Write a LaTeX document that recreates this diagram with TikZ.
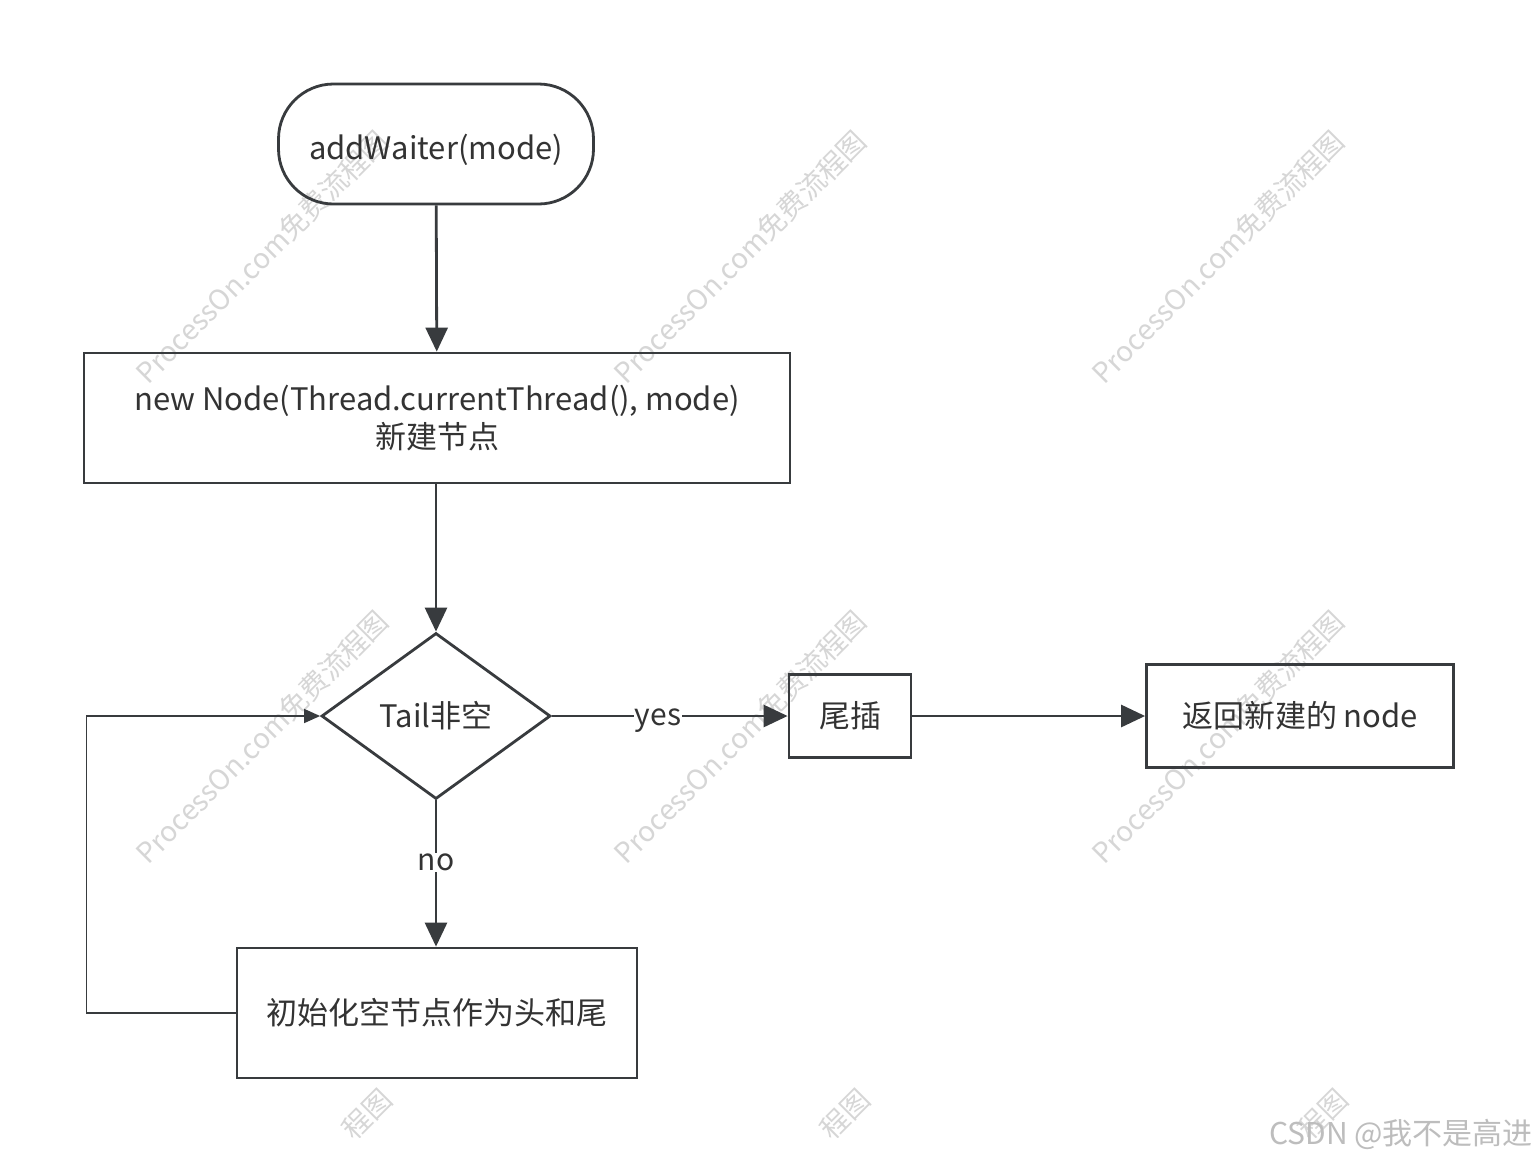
\documentclass[tikz,border=0pt]{standalone}
\usepackage{fontspec}
\setmainfont{Noto Sans CJK SC}
\usetikzlibrary{arrows.meta,shapes.geometric}
\definecolor{ln}{HTML}{383B3E}
\definecolor{tx}{HTML}{333333}
\definecolor{wm}{HTML}{D6D6D6}
\definecolor{csdn}{HTML}{BDBDBD}
\begin{document}
\begin{tikzpicture}[x=1pt,y=-1pt,
  box/.style={draw=ln,line width=2.8pt,text=tx,font=\fontsize{31}{38}\selectfont,align=center,inner sep=0pt},
  conn/.style={draw=ln,line width=2.8pt,-{Triangle[length=24pt,width=22pt]}},
  loopline/.style={draw=ln,line width=1.5pt,-{Triangle[length=16pt,width=14pt]}},
  lbl/.style={fill=white,text=tx,font=\fontsize{30}{30}\selectfont,inner sep=1pt},
  wmark/.style={rotate=45,text=wm,font=\fontsize{28}{28}\selectfont,inner sep=0pt}]
\useasboundingbox[fill=white] (0,0) rectangle (1538,1160);
% watermarks
\foreach \cx in {262,740,1218}{
  \foreach \cy in {257,737}{
    \node[wmark] (wm-\cx-\cy) at (\cx,\cy) {ProcessOn.com免费流程图};
  }
}
\begin{scope}
\clip (0,0) rectangle (1538,1137);
\foreach \cx in {262,740,1218}{
  \node[wmark] (wmb-\cx) at (\cx+105,1114) {程图};
}
\end{scope}
\node[text=csdn,font=\fontsize{30}{30}\selectfont,anchor=east,inner sep=0pt] (csdnmark) at (1533,1134) {CSDN @我不是高进};
% nodes
\node[box,rounded corners=55pt,minimum width=315pt,minimum height=120pt] (start) at (436,144) {\raisebox{-15pt}[0pt][0pt]{addWaiter(mode)}};
\node[box,minimum width=706pt,minimum height=130pt] (new) at (437,418) {new Node(Thread.currentThread(), mode)\\新建节点};
\node[box,shape=diamond,minimum width=229pt,minimum height=166pt] (tail) at (436,716) {Tail非空};
\node[box,minimum width=122pt,minimum height=83pt] (tw) at (850,716) {尾插};
\node[box,minimum width=307pt,minimum height=103pt] (ret) at (1300,716) {返回新建的 node};
\node[box,minimum width=400pt,minimum height=130pt] (init) at (437,1013) {初始化空节点作为头和尾};
% connectors
\draw[conn] (start) -- (new);
\draw[conn] (new.south -| tail.north) -- (tail.north);
\draw[conn] (tail.east) -- node[lbl,pos=0.45,yshift=-5pt] {yes} (tw.west);
\draw[conn] (tw.east) -- (ret.west);
\draw[conn] (tail.south) -- node[lbl,pos=0.41,yshift=-2pt] {no} (init.north -| tail.south);
\draw[loopline] (init.west) -- ++(-149,0) |- (tail.west);
\end{tikzpicture}
\end{document}
